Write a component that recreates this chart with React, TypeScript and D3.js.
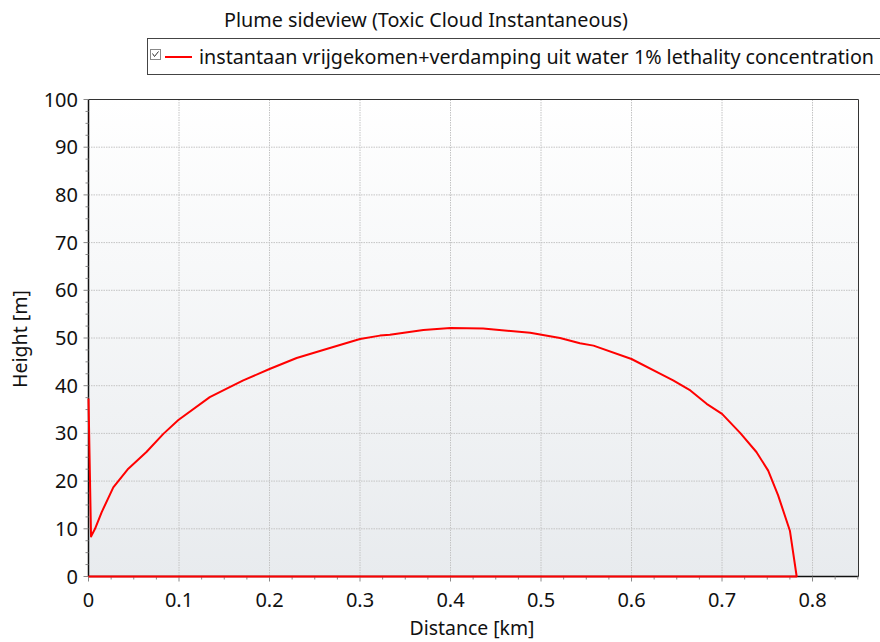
import React from "react";
import * as d3 from "d3";

const distanceKm = [0, 0.0028, 0.0072, 0.0146, 0.0274, 0.044, 0.064, 0.0827, 0.0993, 0.134, 0.156, 0.171, 0.2, 0.23, 0.263, 0.3, 0.322, 0.333, 0.37, 0.4, 0.436, 0.488, 0.521, 0.543, 0.558, 0.6, 0.632, 0.646, 0.665, 0.683, 0.7, 0.72, 0.738, 0.751, 0.762, 0.775, 0.7825, 0];
const heightM = [37.3, 8.4, 10, 13.5, 18.7, 22.6, 26.1, 29.9, 32.8, 37.6, 39.7, 41.1, 43.5, 45.8, 47.7, 49.8, 50.5, 50.7, 51.7, 52.1, 52.0, 51.1, 50.0, 48.9, 48.4, 45.6, 42.5, 41.1, 39, 36.2, 34.1, 30.1, 26.1, 22.2, 17, 9.6, 0, 0];
const xTicks = [0, 0.1, 0.2, 0.3, 0.4, 0.5, 0.6, 0.7, 0.8];
const yTicks = [0, 10, 20, 30, 40, 50, 60, 70, 80, 90, 100];
const titleText = "Plume sideview (Toxic Cloud Instantaneous)";
const seriesName = "instantaan vrijgekomen+verdamping uit water 1% lethality concentration";
const xLabel = "Distance [km]";
const yLabel = "Height [m]";

const W = 880, H = 642;
const L = 88.5, R = 858.5, T = 99.5, B = 576.5;
const FONT = "'Noto Sans', 'Open Sans', sans-serif";

export default function App() {
  const x = d3.scaleLinear().domain([0, 0.8508]).range([L, R]);
  const y = d3.scaleLinear().domain([0, 100]).range([B, T]);
  const pts: [number, number][] = distanceKm.map((d, i) => [d, heightM[i]]);
  const line = d3.line<[number, number]>().x(d => x(d[0])).y(d => y(d[1]));
  const xMinor = d3.range(0, 0.851, 0.025);
  const yMinor = d3.range(0, 100.01, 2.5);

  return (
    <div style={{ position: "absolute", left: 0, top: 0 }}>
      <svg width={W} height={H} style={{ display: "block", fontFamily: FONT }}>
        <defs>
          <linearGradient id="bg" x1="0" y1="0" x2="0" y2="1">
            <stop offset="0" stopColor="#ffffff" />
            <stop offset="1" stopColor="#e8ebee" />
          </linearGradient>
        </defs>
        <rect x={0} y={0} width={W} height={H} fill="#fff" />
        <text x={426} y={27} textAnchor="middle" fontSize={19} fill="#111" textLength={404} lengthAdjust="spacingAndGlyphs">{titleText}</text>
        <rect x={147.5} y={38.5} width={760} height={36} fill="#fff" stroke="#444" />
        <rect x={150.5} y={49.5} width={10} height={10} fill="#fff" stroke="#888" />
        <path d="M152.5,53.5 L154.5,56.5 L158.5,51.5" fill="none" stroke="#333" strokeWidth={1} />
        <line x1={165} x2={192} y1={57} y2={57} stroke="#ff0000" strokeWidth={2} />
        <text x={199} y={64} fontSize={19.5} fill="#111" textLength={675} lengthAdjust="spacingAndGlyphs">{seriesName}</text>

        <rect x={L} y={T} width={R - L} height={B - T} fill="url(#bg)" />
        {xTicks.filter(t => t > 0).map(t => (
          <line key={"gx" + t} x1={x(t)} x2={x(t)} y1={T} y2={B} stroke="#c4c4c4" strokeDasharray="1.5,1" />
        ))}
        {yTicks.filter(t => t > 0 && t < 100).map(t => (
          <line key={"gy" + t} x1={L} x2={R} y1={y(t)} y2={y(t)} stroke="#c4c4c4" strokeDasharray="1.5,1" />
        ))}
        <line x1={L} x2={R} y1={T} y2={T} stroke="#333" />
        <line x1={R} x2={R} y1={T} y2={B} stroke="#333" />
        <line x1={L} x2={L} y1={T} y2={B} stroke="#111" strokeWidth={1.5} />
        <line x1={L} x2={R} y1={B} y2={B} stroke="#111" strokeWidth={1.5} />
        {xMinor.map((t, i) => (
          <line key={"mx" + i} x1={x(t)} x2={x(t)} y1={B} y2={B + (i % 4 === 0 ? 5 : 3)} stroke="#888" />
        ))}
        {yMinor.map((t, i) => (
          <line key={"my" + i} x1={L - (i % 4 === 0 ? 5 : 3)} x2={L} y1={y(t)} y2={y(t)} stroke="#888" />
        ))}
        <path d={line(pts) || ""} fill="none" stroke="#ff0000" strokeWidth={2} strokeLinejoin="round" />
        {yTicks.map(t => (
          <text key={"yt" + t} x={78} y={y(t) + 7} textAnchor="end" fontSize={20} fill="#111">{t}</text>
        ))}
        {xTicks.map(t => (
          <text key={"xt" + t} x={x(t)} y={607} textAnchor="middle" fontSize={20} fill="#111">{t === 0 ? "0" : t.toFixed(1)}</text>
        ))}
        <text x={472} y={635} textAnchor="middle" fontSize={19} fill="#111" textLength={125} lengthAdjust="spacingAndGlyphs">{xLabel}</text>
        <text transform="translate(27,339) rotate(-90)" textAnchor="middle" fontSize={19} fill="#111" textLength={98} lengthAdjust="spacingAndGlyphs">{yLabel}</text>
      </svg>
    </div>
  );
}
